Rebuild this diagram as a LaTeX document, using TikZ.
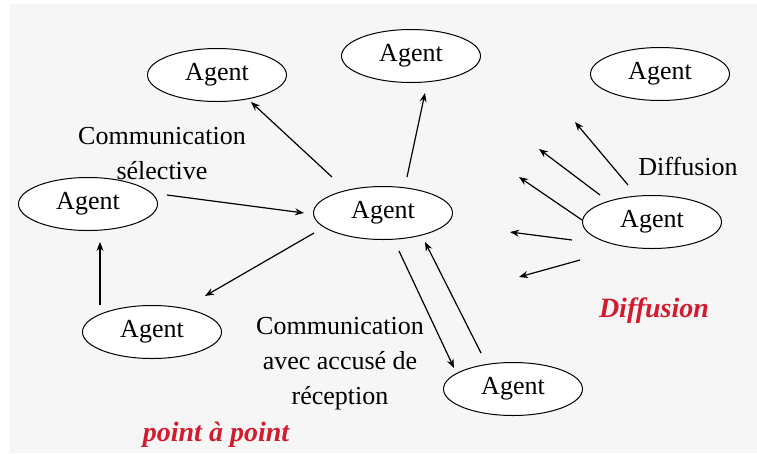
\documentclass[tikz,border=0pt]{standalone}
\usepackage{fontspec}
\setmainfont{Liberation Serif}
\usetikzlibrary{shapes.geometric,arrows.meta}
\definecolor{panel}{HTML}{F6F6F6}
\definecolor{accent}{RGB}{208,28,46}
\begin{document}
\begin{tikzpicture}[x=1pt,y=-1pt,
  agent/.style={ellipse,draw=black,line width=1pt,fill=white,
    minimum width=139pt,minimum height=53pt,inner sep=0pt,
    font=\fontsize{26}{30}\selectfont},
  arr/.style={line width=1.2pt,-{Stealth[length=9pt,width=7pt]}},
  lbl/.style={align=center,font=\fontsize{26}{35}\selectfont},
  tag/.style={text=accent,font=\fontsize{28}{32}\selectfont\bfseries\itshape}]
  % canvas and backdrop
  \useasboundingbox (0,0) rectangle (757,453);
  \fill[white] (0,0) rectangle (757,453);
  \fill[panel] (10,4) rectangle (757,453);

  % agents
  \node[agent] (tl)  at (217,75)  {Agent};
  \node[agent] (top) at (411,56)  {Agent};
  \node[agent] (tr)  at (660,74)  {Agent};
  \node[agent] (lf)  at (88,204)  {Agent};
  \node[agent] (c)   at (383,213) {Agent};
  \node[agent] (rt)  at (652,222) {Agent};
  \node[agent] (bl)  at (152,332) {Agent};
  \node[agent] (bt)  at (513,389) {Agent};

  % labels
  \node[lbl] (sel) at (162,154) {Communication\\sélective};
  \node[lbl] (ack) at (340,364) {Communication\\avec accusé de\\réception};
  \node[lbl] (dif) at (688,166) {Diffusion};
  \node[tag] (tdif) at (654,311) {Diffusion};
  \node[tag] (tpp)  at (216,435) {point à point};

  % point-to-point messages
  \draw[arr] ([shift={(-51,-36)}]c.center) -- ([shift={(34,27)}]tl.center);
  \draw[arr] ([shift={(24,-36)}]c.center) -- ([shift={(14,37)}]top.center);
  \draw[arr] ([shift={(79,-9)}]lf.center) -- ([shift={(-79,0)}]c.center);
  \draw[arr] ([shift={(-69,20)}]c.center) -- ([shift={(53,-36)}]bl.center);
  \draw[arr] ([shift={(-52,-27)}]bl.center) -- ([shift={(12,38)}]lf.center);
  \draw[arr] ([shift={(16,38)}]c.center) -- ([shift={(-59,-21)}]bt.center);
  \draw[arr] ([shift={(-32,-36)}]bt.center) -- ([shift={(42,29)}]c.center);

  % broadcast
  \draw[arr] ([shift={(-24,-37)}]rt.center) -- ([shift={(-77,-100)}]rt.center);
  \draw[arr] ([shift={(-52,-27)}]rt.center) -- ([shift={(-113,-73)}]rt.center);
  \draw[arr] ([shift={(-70,-2)}]rt.center) -- ([shift={(-133,-45)}]rt.center);
  \draw[arr] ([shift={(-80,18)}]rt.center) -- ([shift={(-142,10)}]rt.center);
  \draw[arr] ([shift={(-72,38)}]rt.center) -- ([shift={(-133,55)}]rt.center);
\end{tikzpicture}
\end{document}
